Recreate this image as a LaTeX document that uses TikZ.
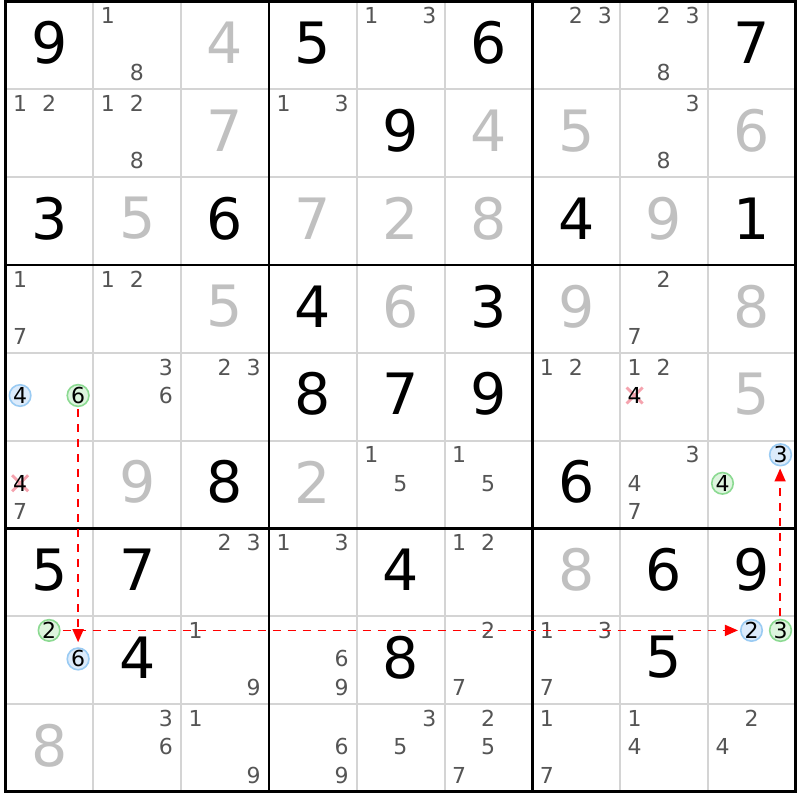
\documentclass[tikz,border=0pt]{standalone}
\usepackage{fontspec}
\setmainfont{DejaVu Sans}
\usetikzlibrary{arrows.meta}
\definecolor{solvedc}{HTML}{C0C0C0}
\definecolor{candc}{HTML}{555555}
\definecolor{thinc}{HTML}{D4D4D4}
\definecolor{bluefill}{HTML}{DCEBFB}
\definecolor{bluedraw}{HTML}{9ACBF3}
\definecolor{greenfill}{HTML}{DDF5DE}
\definecolor{greendraw}{HTML}{8CDA92}
\definecolor{crossc}{HTML}{F5A3AE}
\definecolor{arrowc}{HTML}{FF0000}
% big digit: row, col, digit, style
\newcommand\bigd[4]{\node[#4] (n#1#2) at ({5.5+87.8*(#2-0.5)},{1.5+87.8*(#1-1)+41.5}) {#3};}
% candidate: row, col, digit, style
\newcommand\cnd[4]{\node[#4] (c#1#2#3) at ({5.5+87.8*(#2-1)+14.6+29*mod(#3-1,3)},{1.5+87.8*(#1-1)+14.3+28.5*div(#3-1,3)}) {#3};}
% crossed candidate
\newcommand\xcnd[3]{\coordinate (k#1#2#3) at ({5.5+87.8*(#2-1)+14.6+29*mod(#3-1,3)},{1.5+87.8*(#1-1)+14.3+28.5*div(#3-1,3)});
 \draw[crossline] (k#1#2#3) ++(-8,-8) -- ++(16,16) ++(0,-16) -- ++(-16,16);
 \node[cand,text=black] (c#1#2#3) at (k#1#2#3) {#3};}
\begin{document}
\begin{tikzpicture}[x=1pt,y=-1pt,
  given/.style={inner sep=0pt, font=\fontsize{57}{57}\selectfont, text=black},
  solved/.style={given, text=solvedc},
  cand/.style={inner sep=0pt, font=\fontsize{22}{22}\selectfont, text=candc},
  bluec/.style={cand, circle, minimum size=21.5pt, fill=bluefill, draw=bluedraw, line width=1.6pt, text=black},
  greenc/.style={cand, circle, minimum size=21.5pt, fill=greenfill, draw=greendraw, line width=1.6pt, text=black},
  crossline/.style={draw=crossc, line width=2.8pt},
  thinline/.style={draw=thinc, line width=2pt},
  thickline/.style={draw=black, line width=2.6pt},
  link/.style={draw=arrowc, line width=1.6pt, dash pattern=on 8pt off 7pt, -{Triangle[length=13pt,width=11pt]}},
]
\fill[white] (0,0) rectangle (800,800);
\useasboundingbox (0,0) rectangle (800,800);
% grid
\foreach \i in {1,2,4,5,7,8}{
  \draw[thinline] ({5.5+87.8*\i},1.5) -- ({5.5+87.8*\i},791.7);
  \draw[thinline] (5.5,{1.5+87.8*\i}) -- (795.7,{1.5+87.8*\i});
}
\foreach \i in {3,6}{
  \draw[thickline] ({5.5+87.8*\i},1.5) -- ({5.5+87.8*\i},791.7);
  \draw[thickline] (5.5,{1.5+87.8*\i}) -- (795.7,{1.5+87.8*\i});
}
\draw[draw=black, line width=3pt] (5.5,1.5) rectangle (795.7,791.7);
% givens
\bigd{1}{1}{9}{given}\bigd{1}{4}{5}{given}\bigd{1}{6}{6}{given}\bigd{1}{9}{7}{given}
\bigd{2}{5}{9}{given}
\bigd{3}{1}{3}{given}\bigd{3}{3}{6}{given}\bigd{3}{7}{4}{given}\bigd{3}{9}{1}{given}
\bigd{4}{4}{4}{given}\bigd{4}{6}{3}{given}
\bigd{5}{4}{8}{given}\bigd{5}{5}{7}{given}\bigd{5}{6}{9}{given}
\bigd{6}{3}{8}{given}\bigd{6}{7}{6}{given}
\bigd{7}{1}{5}{given}\bigd{7}{2}{7}{given}\bigd{7}{5}{4}{given}\bigd{7}{8}{6}{given}\bigd{7}{9}{9}{given}
\bigd{8}{2}{4}{given}\bigd{8}{5}{8}{given}\bigd{8}{8}{5}{given}
% solved
\bigd{1}{3}{4}{solved}
\bigd{2}{3}{7}{solved}\bigd{2}{6}{4}{solved}\bigd{2}{7}{5}{solved}\bigd{2}{9}{6}{solved}
\bigd{3}{2}{5}{solved}\bigd{3}{4}{7}{solved}\bigd{3}{5}{2}{solved}\bigd{3}{6}{8}{solved}\bigd{3}{8}{9}{solved}
\bigd{4}{3}{5}{solved}\bigd{4}{5}{6}{solved}\bigd{4}{7}{9}{solved}\bigd{4}{9}{8}{solved}
\bigd{5}{9}{5}{solved}
\bigd{6}{2}{9}{solved}\bigd{6}{4}{2}{solved}
\bigd{7}{7}{8}{solved}
\bigd{9}{1}{8}{solved}
% candidates
\cnd{1}{2}{1}{cand}\cnd{1}{2}{8}{cand}
\cnd{1}{5}{1}{cand}\cnd{1}{5}{3}{cand}
\cnd{1}{7}{2}{cand}\cnd{1}{7}{3}{cand}
\cnd{1}{8}{2}{cand}\cnd{1}{8}{3}{cand}\cnd{1}{8}{8}{cand}
\cnd{2}{1}{1}{cand}\cnd{2}{1}{2}{cand}
\cnd{2}{2}{1}{cand}\cnd{2}{2}{2}{cand}\cnd{2}{2}{8}{cand}
\cnd{2}{4}{1}{cand}\cnd{2}{4}{3}{cand}
\cnd{2}{8}{3}{cand}\cnd{2}{8}{8}{cand}
\cnd{4}{1}{1}{cand}\cnd{4}{1}{7}{cand}
\cnd{4}{2}{1}{cand}\cnd{4}{2}{2}{cand}
\cnd{4}{8}{2}{cand}\cnd{4}{8}{7}{cand}
\cnd{5}{1}{4}{bluec}\cnd{5}{1}{6}{greenc}
\cnd{5}{2}{3}{cand}\cnd{5}{2}{6}{cand}
\cnd{5}{3}{2}{cand}\cnd{5}{3}{3}{cand}
\cnd{5}{7}{1}{cand}\cnd{5}{7}{2}{cand}
\cnd{5}{8}{1}{cand}\cnd{5}{8}{2}{cand}\xcnd{5}{8}{4}
\xcnd{6}{1}{4}\cnd{6}{1}{7}{cand}
\cnd{6}{5}{1}{cand}\cnd{6}{5}{5}{cand}
\cnd{6}{6}{1}{cand}\cnd{6}{6}{5}{cand}
\cnd{6}{8}{3}{cand}\cnd{6}{8}{4}{cand}\cnd{6}{8}{7}{cand}
\cnd{6}{9}{3}{bluec}\cnd{6}{9}{4}{greenc}
\cnd{7}{3}{2}{cand}\cnd{7}{3}{3}{cand}
\cnd{7}{4}{1}{cand}\cnd{7}{4}{3}{cand}
\cnd{7}{6}{1}{cand}\cnd{7}{6}{2}{cand}
\cnd{8}{1}{2}{greenc}\cnd{8}{1}{6}{bluec}
\cnd{8}{3}{1}{cand}\cnd{8}{3}{9}{cand}
\cnd{8}{4}{6}{cand}\cnd{8}{4}{9}{cand}
\cnd{8}{6}{2}{cand}\cnd{8}{6}{7}{cand}
\cnd{8}{7}{1}{cand}\cnd{8}{7}{3}{cand}\cnd{8}{7}{7}{cand}
\cnd{8}{9}{2}{bluec}\cnd{8}{9}{3}{greenc}
\cnd{9}{2}{3}{cand}\cnd{9}{2}{6}{cand}
\cnd{9}{3}{1}{cand}\cnd{9}{3}{9}{cand}
\cnd{9}{4}{6}{cand}\cnd{9}{4}{9}{cand}
\cnd{9}{5}{3}{cand}\cnd{9}{5}{5}{cand}
\cnd{9}{6}{2}{cand}\cnd{9}{6}{5}{cand}\cnd{9}{6}{7}{cand}
\cnd{9}{7}{1}{cand}\cnd{9}{7}{7}{cand}
\cnd{9}{8}{1}{cand}\cnd{9}{8}{4}{cand}
\cnd{9}{9}{2}{cand}\cnd{9}{9}{4}{cand}
% links
\draw[link, shorten <=2pt, shorten >=5pt] (c516.south) -- (c816.north);
\draw[link, shorten <=2pt, shorten >=2pt] (c812.east) -- (c892.west);
\draw[link, shorten <=3pt, shorten >=2pt] ([xshift=-0.4pt]c893.north) -- ([xshift=-0.4pt]c693.south);
\end{tikzpicture}
\end{document}
